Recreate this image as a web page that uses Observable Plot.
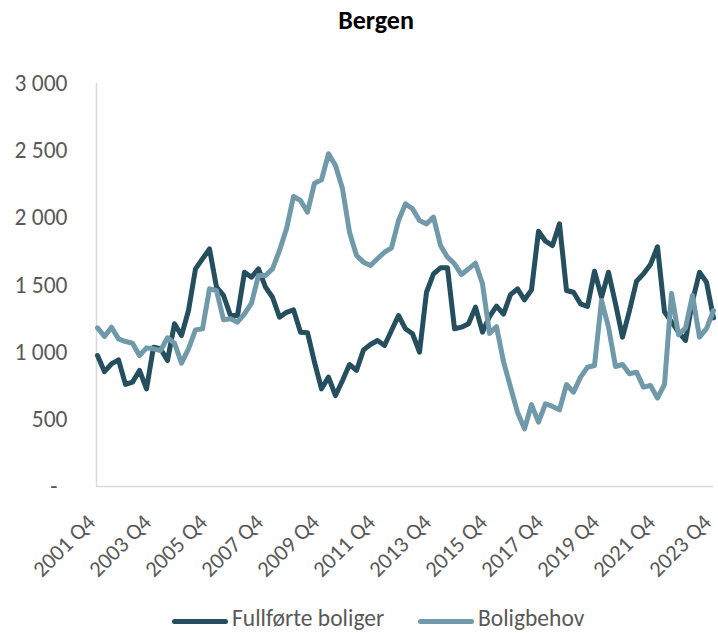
<!DOCTYPE html>
<html>
<head>
<meta charset="utf-8">
<script src="https://cdn.jsdelivr.net/npm/d3@7"></script>
<script src="https://cdn.jsdelivr.net/npm/@observablehq/plot@0.6"></script>
<style>
  html, body { margin: 0; padding: 0; background: #fff; overflow: hidden; }
  body { width: 718px; height: 633px; font-family: Carlito, Calibri, Lato, sans-serif; color: #595959; }
  #title { position: relative; height: 45px; }
  #title span { position: absolute; left: 376px; transform: translateX(-50%); top: 0; line-height: 41px; font-weight: bold; font-size: 26px; color: #000; white-space: nowrap; }
  #legend { position: relative; height: 33px; }
  .sw { position: absolute; top: 19px; width: 56px; height: 5px; border-radius: 3px; }
  .lt { position: absolute; top: 6px; line-height: 24px; font-size: 23.5px; color: #595959; white-space: nowrap; }
</style>
</head>
<body>
<div id="title"><span>Bergen</span></div>
<div id="chart"></div>
<div id="legend"></div>
<script>
// Categories: quarters 2001 Q4 .. 2023 Q4
const quarters = [];
for (let y = 2001; y <= 2023; y++) {
  for (let q = 1; q <= 4; q++) {
    if (y === 2001 && q < 4) continue;
    quarters.push(`${y} Q${q}`);
  }
}

const seriesNames = ["Fullførte boliger", "Boligbehov"];
const seriesColors = ["#254e5e", "#7099aa"];

const fullforteBoliger = [
  975, 855, 913, 943, 760, 777, 864, 727, 1037, 1025,
  938, 1211, 1124, 1310, 1620, 1695, 1769, 1484, 1422, 1273,
  1273, 1595, 1558, 1620, 1484, 1409, 1260, 1297, 1315, 1149,
  1145, 925, 727, 814, 677, 789, 908, 864, 1017, 1057,
  1087, 1050, 1161, 1273, 1174, 1137, 1000, 1446, 1583, 1628,
  1628, 1174, 1186, 1211, 1335, 1149, 1265, 1343, 1283, 1428,
  1471, 1390, 1464, 1900, 1826, 1794, 1955, 1459, 1446, 1360,
  1340, 1603, 1409, 1595, 1360, 1112, 1310, 1528, 1583, 1653,
  1785, 1300, 1225, 1149, 1087, 1380, 1595, 1521, 1255
];

const boligbehov = [
  1181, 1117, 1186, 1099, 1079, 1067, 975, 1032, 1025, 1012,
  1107, 1067, 918, 1025, 1166, 1174, 1471, 1459, 1241, 1248,
  1223, 1285, 1365, 1571, 1571, 1620, 1757, 1918, 2159, 2129,
  2042, 2258, 2283, 2477, 2390, 2216, 1893, 1720, 1670, 1645,
  1695, 1744, 1777, 1980, 2104, 2067, 1980, 1955, 2005, 1794,
  1707, 1658, 1578, 1620, 1662, 1509, 1140, 1190, 930, 740,
  553, 429, 610, 479, 616, 596, 571, 759, 702, 814,
  888, 901, 1385, 1186, 893, 908, 839, 851, 740, 752,
  658, 760, 1437, 1130, 1180, 1422, 1112, 1175, 1310
];

const xTickLabels = ["2001 Q4", "2003 Q4", "2005 Q4", "2007 Q4", "2009 Q4", "2011 Q4",
  "2013 Q4", "2015 Q4", "2017 Q4", "2019 Q4", "2021 Q4", "2023 Q4"];
const yTicks = [0, 500, 1000, 1500, 2000, 2500, 3000];

const rows = [];
quarters.forEach((q, i) => {
  rows.push({q, series: seriesNames[0], value: fullforteBoliger[i]});
  rows.push({q, series: seriesNames[1], value: boligbehov[i]});
});

const fmt = d => d3.format(",")(d).replace(/,/g, " ");
const font = "Carlito, Calibri, Lato, sans-serif";

const chart = Plot.plot({
  width: 718,
  height: 555,
  marginTop: 38,
  marginBottom: 114,
  marginLeft: 96,
  marginRight: 5,
  style: {fontFamily: font, background: "#fff", overflow: "visible"},
  x: {type: "point", domain: quarters, padding: 0, axis: null},
  y: {domain: [0, 3000], axis: null},
  color: {domain: seriesNames, range: seriesColors},
  marks: [
    Plot.ruleX([quarters[0]], {y1: 0, y2: 3000, stroke: "#d9d9d9", strokeWidth: 1.5, dx: -1}),
    Plot.ruleY([0], {stroke: "#d9d9d9", strokeWidth: 1.5}),
    Plot.text(yTicks.filter(d => d !== 0), {
      x: () => quarters[0], y: d => d, text: fmt,
      textAnchor: "end", dx: -30, fontSize: 23.5, fill: "#595959"
    }),
    Plot.text(yTicks.filter(d => d === 0), {
      x: () => quarters[0], y: d => d, text: () => "-",
      textAnchor: "end", dx: -40, fontSize: 23.5, fill: "#595959"
    }),
    Plot.text(xTickLabels, {
      x: d => d, y: () => 0, text: d => d,
      rotate: -45, textAnchor: "end", dx: -6, dy: 32, fontSize: 22.5, fill: "#595959"
    }),
    Plot.line(rows, {
      x: "q", y: "value", z: "series", stroke: "series",
      strokeWidth: 5, strokeLinejoin: "round", strokeLinecap: "round"
    })
  ]
});
document.getElementById("chart").appendChild(chart);

const legend = document.getElementById("legend");
const legendPos = [[172, 232], [418, 478]];
seriesNames.forEach((name, i) => {
  const sw = document.createElement("div");
  sw.className = "sw";
  sw.style.left = legendPos[i][0] + "px";
  sw.style.background = seriesColors[i];
  legend.appendChild(sw);
  const t = document.createElement("div");
  t.className = "lt";
  t.style.left = legendPos[i][1] + "px";
  t.textContent = name;
  legend.appendChild(t);
});
</script>
</body>
</html>
